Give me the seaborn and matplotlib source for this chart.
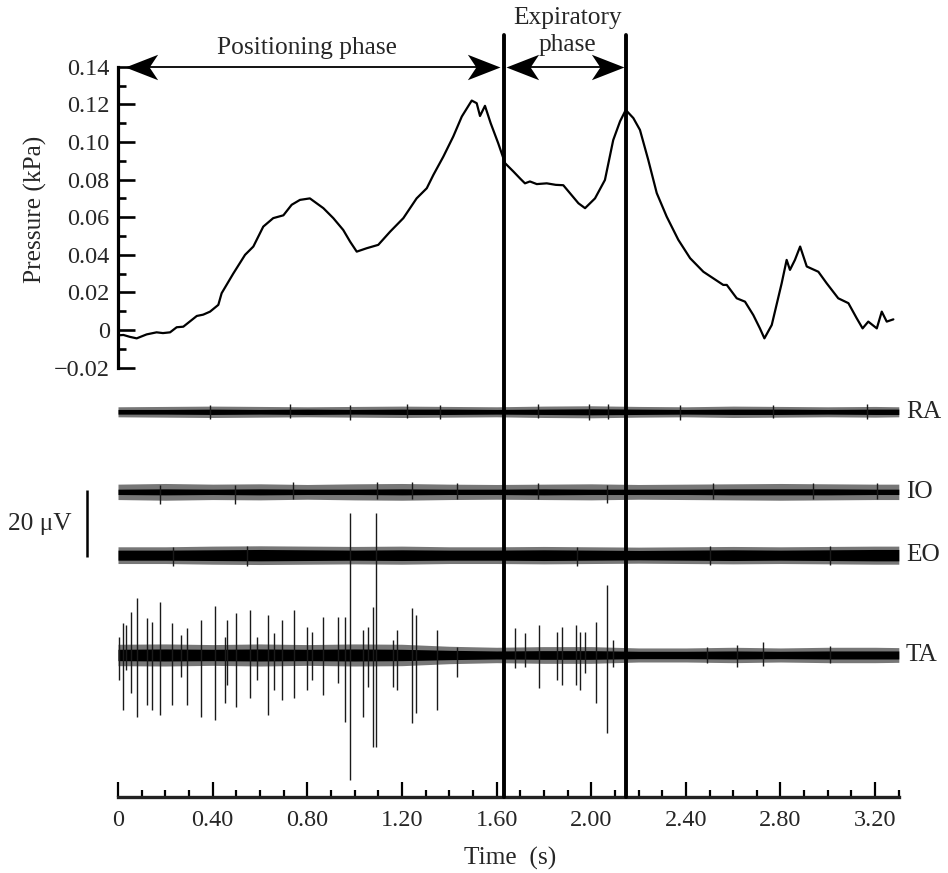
import matplotlib
matplotlib.use("Agg")
import matplotlib.pyplot as plt
import seaborn as sns
import pandas as pd
from matplotlib.ticker import FixedLocator, FixedFormatter
from matplotlib.lines import Line2D
from matplotlib.path import Path
from matplotlib.transforms import blended_transform_factory

# ---------------- data ----------------
pressure_t = [0.0, 0.023, 0.050, 0.079, 0.121, 0.163, 0.190, 0.220, 0.248, 0.276, 0.333, 0.360,
              0.389, 0.424, 0.438, 0.487, 0.537, 0.572, 0.614, 0.656, 0.699, 0.734, 0.769,
              0.811, 0.868, 0.910, 0.952, 0.981, 1.009, 1.051, 1.100, 1.150, 1.206, 1.262,
              1.305, 1.333, 1.375, 1.417, 1.453, 1.495, 1.516, 1.530, 1.551, 1.575,
              1.607, 1.636, 1.671, 1.700, 1.720, 1.741, 1.770, 1.812, 1.850, 1.882, 1.910,
              1.946, 1.974, 2.016, 2.058, 2.093, 2.122, 2.146, 2.178, 2.206, 2.241, 2.277,
              2.319, 2.368, 2.418, 2.474, 2.516, 2.558, 2.573, 2.615, 2.650, 2.685, 2.713,
              2.732, 2.763, 2.805, 2.826, 2.840, 2.861, 2.883, 2.911, 2.960, 2.995,
              3.044, 3.087, 3.122, 3.147, 3.171, 3.207, 3.228, 3.249, 3.277]
pressure_kpa = [-0.0028, -0.0026, -0.0036, -0.0044, -0.0023, -0.0012, -0.0016, -0.0012, 0.0015,
                0.0018, 0.0075, 0.0082, 0.0098, 0.0134, 0.0196, 0.0300, 0.0400, 0.0444,
                0.0550, 0.0595, 0.0610, 0.0666, 0.0692, 0.0700, 0.0648, 0.0595, 0.0532,
                0.0470, 0.0417, 0.0435, 0.0453, 0.0523, 0.0595, 0.0700, 0.0754, 0.0825,
                0.0922, 0.1029, 0.1135, 0.1220, 0.1206, 0.1138, 0.1192, 0.1100, 0.0993,
                0.0887, 0.0843, 0.0805, 0.0780, 0.0790, 0.0776, 0.0780, 0.0772, 0.0770,
                0.0728, 0.0674, 0.0648, 0.0700, 0.0798, 0.1010, 0.1110, 0.1170, 0.1127,
                0.1064, 0.0905, 0.0728, 0.0603, 0.0480, 0.0382, 0.0310, 0.0275, 0.0240,
                0.0240, 0.0169, 0.0151, 0.0080, 0.0009, -0.0044, 0.0027, 0.0249, 0.0373,
                0.0320, 0.0373, 0.0444, 0.0338, 0.0310, 0.0249, 0.0169, 0.0143, 0.0063,
                0.0009, 0.0045, 0.0009, 0.0098, 0.0045, 0.0057]

phase_bounds = [1.631, 2.146]
phase_names = ["Positioning phase", "Expiratory", "phase"]
# arrow tips (s) for the two phase arrows
arrow_spans = [(0.030, 1.615), (1.640, 2.140)]

p_ticks = [-0.02, 0.0, 0.02, 0.04, 0.06, 0.08, 0.10, 0.12, 0.14]
p_tick_labels = ["\u22120.02", "0", "0.02", "0.04", "0.06", "0.08", "0.10", "0.12", "0.14"]
p_minor = [-0.01, 0.01, 0.03, 0.05, 0.07, 0.09, 0.11, 0.13]

t_ticks = [0.0, 0.4, 0.8, 1.2, 1.6, 2.0, 2.4, 2.8, 3.2]
t_tick_labels = ["0", "0.40", "0.80", "1.20", "1.60", "2.00", "2.40", "2.80", "3.20"]
t_minor = [0.1, 0.2, 0.3, 0.5, 0.6, 0.7, 0.9, 1.0, 1.1, 1.3, 1.4, 1.5, 1.7, 1.8, 1.9,
           2.1, 2.2, 2.3, 2.5, 2.6, 2.7, 2.9, 3.0, 3.1, 3.3]

# EMG channels (µV): baseline offset, core and outer half-widths of the noise band
emg_names = ["RA", "IO", "EO", "TA"]
emg_offset = [115.0, 91.1, 72.2, 42.4]
env_t = [0.0, 0.2, 0.4, 0.6, 0.8, 1.0, 1.2, 1.4, 1.6, 1.8, 2.0, 2.2, 2.4, 2.6, 2.8, 3.0, 3.2, 3.3]
ra_core = [0.7, 0.7, 0.8, 0.7, 0.8, 0.7, 0.8, 0.8, 0.7, 0.8, 0.9, 0.8, 0.7, 0.8, 0.8, 0.7, 0.8, 0.8]
ra_outer = [1.5, 1.6, 1.7, 1.6, 1.5, 1.6, 1.7, 1.6, 1.5, 1.7, 1.8, 1.6, 1.5, 1.7, 1.6, 1.5, 1.6, 1.5]
io_core = [0.8, 0.9, 0.8, 0.9, 0.8, 0.8, 0.9, 0.8, 0.8, 0.9, 0.8, 0.8, 0.8, 0.9, 0.9, 0.9, 0.8, 0.8]
io_outer = [2.3, 2.5, 2.3, 2.4, 2.2, 2.4, 2.5, 2.3, 2.2, 2.3, 2.4, 2.2, 2.3, 2.4, 2.5, 2.4, 2.3, 2.3]
eo_core = [1.5, 1.5, 1.6, 1.7, 1.6, 1.5, 1.6, 1.5, 1.5, 1.6, 1.5, 1.4, 1.5, 1.6, 1.5, 1.6, 1.7, 1.7]
eo_outer = [2.5, 2.5, 2.7, 2.8, 2.7, 2.6, 2.7, 2.5, 2.5, 2.6, 2.5, 2.4, 2.5, 2.6, 2.5, 2.6, 2.7, 2.7]
ta_core = [1.7, 1.8, 1.7, 1.8, 1.7, 1.8, 1.7, 1.4, 1.2, 1.3, 1.3, 1.1, 1.1, 1.2, 1.1, 1.2, 1.2, 1.2]
ta_outer = [3.2, 3.3, 3.1, 3.3, 3.1, 3.3, 3.2, 2.6, 2.3, 2.5, 2.5, 2.1, 2.1, 2.3, 2.1, 2.3, 2.3, 2.2]

# spikes: time (s), excursion above and below the baseline (µV)
ra_spk_t = [0.389, 0.727, 0.980, 1.220, 1.360, 1.777, 1.990, 2.070, 2.375, 2.770, 3.164]
ra_spk_up = [2.0, 2.2, 2.0, 2.3, 2.1, 2.4, 2.2, 2.3, 2.0, 2.1, 2.2]
ra_spk_dn = [2.2, 2.0, 2.3, 2.0, 2.2, 2.0, 2.4, 2.1, 2.3, 2.0, 2.1]
io_spk_t = [0.178, 0.494, 0.741, 1.093, 1.241, 1.431, 1.777, 2.065, 2.516, 2.939, 3.207]
io_spk_up = [2.0, 2.0, 2.8, 2.8, 3.0, 2.5, 2.5, 2.0, 2.5, 2.6, 2.5]
io_spk_dn = [3.5, 3.5, 2.2, 2.0, 2.0, 2.0, 2.0, 3.4, 2.0, 2.2, 2.0]
eo_spk_t = [0.234, 0.544, 1.939, 2.502, 3.009]
eo_spk_up = [2.5, 2.6, 2.4, 2.8, 2.7]
eo_spk_dn = [3.2, 3.2, 3.3, 2.9, 2.8]
ta_spk_t = [0.006, 0.020, 0.034, 0.055, 0.079, 0.124, 0.142, 0.178, 0.227, 0.265, 0.293,
            0.349, 0.410, 0.452, 0.462, 0.499, 0.558, 0.586, 0.633, 0.659, 0.694, 0.744,
            0.797, 0.821, 0.868, 0.931, 0.959, 0.981, 1.037, 1.058, 1.079, 1.089, 1.164,
            1.178, 1.241, 1.259, 1.347, 1.431, 1.678, 1.720, 1.779, 1.854, 1.875, 1.936,
            1.953, 1.974, 2.019, 2.068, 2.093, 2.488, 2.615, 2.727, 3.009]
ta_spk_up = [5.5, 9.5, 9.0, 12.9, 16.9, 11.0, 9.9, 15.9, 9.5, 6.0, 8.0, 10.4, 14.6, 5.5, 10.4,
             12.4, 13.4, 5.5, 11.9, 6.5, 10.4, 13.4, 8.5, 7.0, 11.4, 11.4, 11.4, 42.4, 7.5,
             8.5, 14.4, 42.4, 4.5, 7.5, 13.9, 11.9, 7.5, 2.5, 8.0, 6.5, 9.0, 7.0, 8.5, 9.0,
             7.0, 7.0, 9.9, 20.9, 4.5, 2.5, 3.0, 4.0, 2.7]
ta_spk_dn = [7.5, 16.4, 4.5, 11.4, 18.4, 14.9, 16.4, 17.9, 14.9, 6.5, 14.9, 18.4, 19.4, 14.4,
             9.0, 15.4, 12.9, 7.5, 17.9, 10.4, 13.4, 12.9, 10.4, 7.5, 11.9, 8.5, 19.9, 37.3,
             18.4, 9.5, 27.4, 27.4, 9.5, 10.4, 20.4, 17.4, 16.4, 6.5, 4.0, 3.5, 9.9, 7.5,
             9.0, 9.0, 10.4, 5.5, 14.4, 23.4, 3.5, 2.5, 3.5, 3.4, 2.5]

scale_bar_uv = 20.0

# ---------------- figure ----------------
sns.set_style("white")
plt.rcParams["font.family"] = ["Liberation Serif", "DejaVu Serif"]
FS_TICK = 17.5
FS = 18.3

fig = plt.figure(figsize=(9.48, 8.73), dpi=100)
L, W = 118 / 948, 780.8 / 948
axp = fig.add_axes([L, 1 - 367.7 / 873, W, 301 / 873])
axe = fig.add_axes([L, 1 - 797 / 873, W, 412 / 873])
for ax in (axp, axe):
    ax.set_facecolor("none")
    ax.set_xlim(0, 3.3)

# pressure trace
df = pd.DataFrame({"t": pressure_t, "p": pressure_kpa})
sns.lineplot(data=df, x="t", y="p", ax=axp, color="black", lw=1.6,
             estimator=None, sort=False)
axp.set_ylim(-0.02, 0.14)
axp.set_xlabel("")
axp.set_ylabel("")
for s in ("top", "right", "bottom"):
    axp.spines[s].set_visible(False)
axp.spines["left"].set_linewidth(2.3)
axp.spines["left"].set_color("black")
axp.set_xticks([])
axp.yaxis.set_major_locator(FixedLocator(p_ticks))
axp.yaxis.set_major_formatter(FixedFormatter(p_tick_labels))
axp.yaxis.set_minor_locator(FixedLocator(p_minor))
axp.tick_params(axis="y", which="major", direction="in", length=12, width=1.9,
                labelsize=FS_TICK, pad=6, left=True, color="black")
axp.tick_params(axis="y", which="minor", direction="in", length=6, width=1.9,
                left=True, color="black")
fig.text(0.0369, 0.7606, "Pressure (kPa)", rotation=90, ha="center", va="center", fontsize=FS)

# phase arrows (barbed heads) and labels
head_r = Path([(0, 0), (-1, 0.39), (-0.74, 0), (-1, -0.39), (0, 0)],
              [Path.MOVETO, Path.LINETO, Path.LINETO, Path.LINETO, Path.CLOSEPOLY])
head_l = Path([(0, 0), (1, 0.39), (0.74, 0), (1, -0.39), (0, 0)],
              [Path.MOVETO, Path.LINETO, Path.LINETO, Path.LINETO, Path.CLOSEPOLY])
for x0, x1 in arrow_spans:
    axp.plot([x0 + 0.03, x1 - 0.03], [0.14, 0.14], color="black", lw=1.3, clip_on=False)
    axp.plot([x0], [0.14], marker=head_l, ms=47, color="black", mew=0, clip_on=False)
    axp.plot([x1], [0.14], marker=head_r, ms=47, color="black", mew=0, clip_on=False)

axp.text(0.800, 0.1500, phase_names[0], ha="center", va="center", fontsize=FS, clip_on=False)
mid2 = 1.900
axp.text(mid2, 0.1659, phase_names[1], ha="center", va="center", fontsize=FS, clip_on=False)
axp.text(mid2, 0.1515, phase_names[2], ha="center", va="center", fontsize=FS, clip_on=False)

# EMG traces
axe.set_ylim(0, 123)
cores = [ra_core, io_core, eo_core, ta_core]
outers = [ra_outer, io_outer, eo_outer, ta_outer]
spikes = [(ra_spk_t, ra_spk_up, ra_spk_dn), (io_spk_t, io_spk_up, io_spk_dn),
          (eo_spk_t, eo_spk_up, eo_spk_dn), (ta_spk_t, ta_spk_up, ta_spk_dn)]
for name, base, core, outer, (st, su, sd) in zip(emg_names, emg_offset, cores, outers, spikes):
    axe.fill_between(env_t, [base - o for o in outer], [base + o for o in outer],
                     color="#4a4a4a", alpha=0.75, lw=0)
    axe.fill_between(env_t, [base - c for c in core], [base + c for c in core],
                     color="black", lw=0)
    axe.vlines(st, [base - d for d in sd], [base + u for u in su],
               color="#1a1a1a", lw=1.0)
    axe.text(3.33, base, name, ha="left", va="center", fontsize=FS, clip_on=False)

# 20 µV scale bar
sb_base = 71.6
axe.plot([-0.131, -0.131], [sb_base, sb_base + scale_bar_uv], color="black", lw=1.8,
         clip_on=False, solid_capstyle="butt")
axe.text(-0.194, sb_base + scale_bar_uv / 2, "20 \u03bcV", ha="right", va="center",
         fontsize=FS, clip_on=False)

# time ruler
for s in ("top", "right", "left"):
    axe.spines[s].set_visible(False)
axe.spines["bottom"].set_linewidth(2.4)
axe.spines["bottom"].set_color("#222222")
axe.set_yticks([])
axe.xaxis.set_major_locator(FixedLocator(t_ticks))
axe.xaxis.set_major_formatter(FixedFormatter(t_tick_labels))
axe.xaxis.set_minor_locator(FixedLocator(t_minor))
axe.tick_params(axis="x", which="major", direction="in", length=11, width=1.6,
                labelsize=FS_TICK, pad=9, bottom=True, color="black")
axe.tick_params(axis="x", which="minor", direction="in", length=5, width=1.6,
                bottom=True, color="black")
fig.text(0.538, 0.0172, "Time  (s)", ha="center", va="center", fontsize=FS)

# phase boundary lines spanning both panels
trans = blended_transform_factory(axp.transData, fig.transFigure)
for b in phase_bounds:
    fig.add_artist(Line2D([b, b], [1 - 797 / 873, 1 - 35 / 873], transform=trans,
                          color="black", lw=2.8))

fig.savefig("out.png", dpi=100)
